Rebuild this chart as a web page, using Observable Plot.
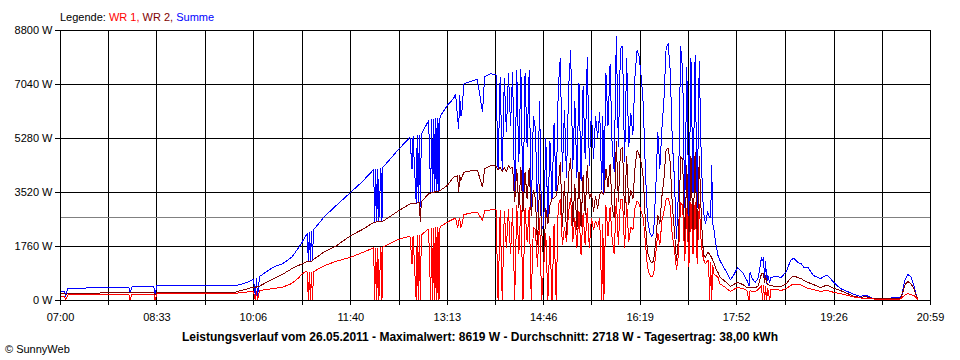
<!DOCTYPE html>
<html>
<head>
<meta charset="utf-8">
<script src="https://cdn.jsdelivr.net/npm/d3@7"></script>
<script src="https://cdn.jsdelivr.net/npm/@observablehq/plot@0.6"></script>
<style>
  html, body { margin: 0; padding: 0; background: #fff; }
  #wrap { position: relative; width: 960px; height: 360px; font-family: "Liberation Sans", Arial, sans-serif; color: #000; }
  #legend { position: absolute; left: 60px; top: 12px; font-size: 11px; line-height: 11px; white-space: nowrap; }
  #chart { position: absolute; left: 0; top: 24px; }
  #title { position: absolute; left: 0; width: 960px; top: 331px; text-align: center; font-weight: bold; font-size: 12px; line-height: 12px; white-space: nowrap; }
  #copy { position: absolute; left: 5px; top: 344px; font-size: 11px; line-height: 11px; white-space: nowrap; }
</style>
</head>
<body>
<div id="wrap">
  <div id="legend"></div>
  <div id="chart"></div>
  <div id="title"></div>
  <div id="copy"></div>
</div>
<script>
// ---------- data ----------
const legendPrefix = "Legende: ";
const seriesNames = ["WR 1", "WR 2", "Summe"];
const seriesColors = ["#ff0000", "#800000", "#0000ff"];
const xTickLabels = ["07:00", "08:33", "10:06", "11:40", "13:13", "14:46", "16:19", "17:52", "19:26", "20:59"];
const yTicks = [0, 1760, 3520, 5280, 7040, 8800];
const averageW = 2718;
const maxW = 8619;
const dateLabel = "26.05.2011";
const dayYield = "38,00";
const copyright = "© SunnyWeb";

// sample times, minutes after midnight
const times = [
  420,424,425,427,439,459,486,487,489,510,
  511,513,555,589,594,598,603,606,608,609,
  610,612,625,634,643,650,653,656,658,659,
  660,661,662,663,664,674,685,700,711,722,
  723,724,725,726,727,729,730,731,745,757,
  759,760,763,764,765,766,767,768,775,777,
  778,779,780,781,782,783,784,785,786,793,
  799,801,803,804,805,806,807,809,818,822,
  827,829,835,840,842,844,846,848,850,852,
  854,856,858,860,862,864,866,868,870,872,
  874,876,878,880,882,884,886,888,890,892,
  894,896,898,900,902,904,906,908,910,912,
  914,916,918,920,922,924,926,928,930,932,
  934,936,938,940,942,943,944,946,948,950,
  952,954,956,958,960,962,964,966,968,970,
  972,974,976,978,980,982,984,986,988,990,
  992,994,996,998,1000,1002,1004,1006,1008,1010,
  1012,1014,1016,1018,1020,1022,1024,1026,1028,1030,
  1032,1034,1036,1038,1040,1042,1044,1045,1046,1047,
  1048,1049,1050,1052,1054,1056,1061,1066,1069,1073,
  1078,1082,1084,1085,1087,1090,1093,1096,1097,1098,
  1099,1100,1101,1102,1104,1105,1110,1115,1120,1124,
  1127,1131,1134,1137,1141,1146,1153,1158,1160,1166,
  1172,1179,1185,1192,1196,1204,1211,1218,1225,1230,
  1232,1234,1237,1240,1243,1246,1247
];
// WR 1 power (W)
const wr1 = [
  130,130,30,180,180,186,190,0,210,210,
  0,218,218,228,261,270,293,293,0,300,
  0,326,391,430,554,750,870,930,930,0,
  935,0,935,0,940,1125,1270,1411,1560,1718,
  0,1720,0,1725,0,1740,0,1750,1980,2100,
  1200,2110,0,2120,0,2130,0,2140,2337,0,
  2360,0,2370,0,2380,0,2390,0,2400,2552,
  2655,2690,2350,2600,2700,2360,2450,2800,2868,2880,
  2607,2920,2956,2950,0,2950,0,2920,1700,2980,
  1500,3000,0,3100,1500,3100,0,3000,1900,3050,
  0,2400,2300,1100,2700,0,1100,2200,0,2100,
  0,2500,0,3100,3300,1800,2400,1900,2900,3350,
  1900,2700,1700,2900,1500,2850,1800,3000,1700,2700,
  2300,2600,2400,2700,0,2500,0,3100,2100,3050,
  2000,1500,3350,1800,3300,3300,1700,3200,1900,2400,
  2300,3000,3250,3150,2900,2700,1900,1100,850,760,
  850,1500,2200,1800,2600,2900,3300,3350,3100,2100,
  1700,1000,1500,3200,3100,1300,3000,1100,3200,1500,
  3200,1200,3150,1800,1350,1200,1300,1300,0,1250,
  0,1150,870,815,760,545,430,293,359,424,
  391,326,0,320,300,293,359,489,0,489,
  0,456,0,391,0,359,359,326,391,489,
  538,521,505,456,391,359,293,326,326,261,
  228,163,115,80,80,50,33,33,33,50,
  115,163,228,196,163,65,0
];
// WR 2 power (W)
const wr2 = [
  218,228,196,228,228,245,250,250,250,260,
  170,260,270,270,326,359,407,433,433,440,
  445,470,707,850,1035,1150,1196,1240,1271,1271,
  1275,1280,1285,1290,1336,1580,1760,2119,2310,2542,
  2550,2555,2560,2565,2570,2575,2580,2585,2900,3150,
  3150,3160,3170,3180,3190,3200,2550,3220,3477,3500,
  3510,3520,3530,3540,3550,3555,3560,3565,3580,3748,
  4019,4040,4060,3530,4080,3900,4000,4182,4237,4250,
  3693,4300,4400,4380,4250,4350,4200,4330,4200,4400,
  4300,4350,3200,4300,3000,4350,2900,4200,3300,4330,
  2750,3600,3300,1800,3800,2300,1200,3000,2500,3100,
  3300,3350,3400,3800,4500,2400,3900,2100,4100,4650,
  2400,3800,2300,4200,2400,4100,2800,4400,3300,3500,
  2900,3400,3000,3450,3550,3500,3450,4300,3700,4450,
  3000,2700,5200,3200,4900,5000,2800,4700,3100,3600,
  3300,4300,4900,4750,4500,4000,2600,1600,1350,1220,
  1300,1900,2800,2500,3400,4000,4900,4980,4500,3100,
  2300,1300,2000,4700,4600,1700,4400,1500,4700,2000,
  4850,1800,4700,2700,1500,1400,1550,1550,1500,1450,
  1400,1300,1250,1030,920,760,620,456,521,587,
  521,424,424,425,420,407,489,870,880,865,
  587,815,587,521,489,489,456,456,554,717,
  800,750,717,652,587,521,424,489,489,391,
  326,228,130,98,130,65,50,50,65,80,
  228,489,619,554,391,98,0
];
// Summe power (W)
const summe = [
  293,293,130,390,400,424,430,250,456,470,
  170,489,489,489,521,570,636,700,130,720,
  130,782,1085,1195,1411,1737,1900,2080,2184,1280,
  2216,1290,2250,1300,2300,2715,3070,3530,3870,4270,
  2560,4290,2570,4300,2580,4320,2590,4340,4889,5320,
  4300,5350,3180,5380,3190,5390,3060,5420,5867,3530,
  5900,3540,5920,3550,5940,3560,5960,3570,5990,6356,
  6580,6735,5930,5600,6700,6000,6100,7063,7171,7200,
  6137,7300,7390,7350,4250,7300,4200,7250,5500,7400,
  5700,7450,3200,7500,4500,7560,2900,7400,5000,7500,
  2750,6000,5600,2900,6500,2300,2500,5300,2600,5200,
  3300,5800,3400,6900,7900,4200,6200,4000,6900,8150,
  4300,6500,4000,7100,3900,7000,4600,7950,4400,6200,
  4600,6000,5300,6150,3600,6000,3500,7400,5700,7700,
  5000,4200,8619,5000,8200,8300,4500,7900,5000,6100,
  5400,7300,8150,7950,7300,6400,4300,2700,2250,2080,
  2200,3600,5500,4300,5600,6600,8200,8380,7500,5200,
  4000,2000,3600,8300,7500,3000,7600,2600,7900,3500,
  8000,3000,7800,4500,2900,2500,2900,2800,2700,2700,
  4400,2500,2340,1850,1470,1300,1000,684,815,1076,
  913,652,489,920,717,587,750,1400,1304,1400,
  652,1300,554,815,587,750,782,750,945,1304,
  1385,1239,1206,1076,1076,815,717,815,800,587,
  391,293,196,130,180,65,80,65,98,98,
  261,652,847,782,489,98,0
];

// ---------- build ----------
const n = Math.min(times.length, wr1.length, wr2.length, summe.length);
const rows = d3.range(n).map(i => ({t: times[i], wr1: wr1[i], wr2: wr2[i], summe: summe[i]}));

const toMin = s => { const [h, m] = s.split(":").map(Number); return h * 60 + m; };
const labeled = xTickLabels.map(toMin);
const grid = [];
labeled.forEach((v, i) => { grid.push(v); if (i < labeled.length - 1) grid.push((v + labeled[i + 1]) / 2); });
const labelFor = new Map(labeled.map((v, i) => [v, xTickLabels[i]]));

const chart = Plot.plot({
  width: 960,
  height: 300,
  marginLeft: 60,
  marginRight: 30,
  marginTop: 6,
  marginBottom: 24,
  style: {fontFamily: "'Liberation Sans', Arial, sans-serif", fontSize: "11px", background: "#fff", color: "#000", overflow: "visible"},
  x: {domain: [labeled[0], labeled[labeled.length - 1]]},
  y: {domain: [0, yTicks[yTicks.length - 1]]},
  marks: [
    Plot.ruleX(grid, {stroke: "#000", strokeWidth: 1, shapeRendering: "crispEdges"}),
    Plot.ruleY(yTicks, {stroke: "#000", strokeWidth: 1, shapeRendering: "crispEdges"}),
    Plot.ruleY([averageW], {stroke: "#808080", strokeWidth: 1, shapeRendering: "crispEdges"}),
    Plot.line(rows, {x: "t", y: "summe", stroke: seriesColors[2], strokeWidth: 1, shapeRendering: "crispEdges", strokeLinejoin: "miter"}),
    Plot.line(rows, {x: "t", y: "wr2", stroke: seriesColors[1], strokeWidth: 1, shapeRendering: "crispEdges", strokeLinejoin: "miter"}),
    Plot.line(rows, {x: "t", y: "wr1", stroke: seriesColors[0], strokeWidth: 1, shapeRendering: "crispEdges", strokeLinejoin: "miter"}),
    Plot.frame({stroke: "#000", shapeRendering: "crispEdges"}),
    Plot.axisX({ticks: grid, tickSize: 5, tickPadding: 8, tickFormat: d => labelFor.get(d) ?? "", label: null, shapeRendering: "crispEdges"}),
    Plot.axisY({ticks: yTicks, tickSize: 5, tickPadding: 3, tickFormat: d => `${d} W`, label: null, shapeRendering: "crispEdges"})
  ]
});
document.getElementById("chart").appendChild(chart);

// legend
const legend = document.getElementById("legend");
const pre = document.createElement("span");
pre.textContent = legendPrefix;
legend.appendChild(pre);
seriesNames.forEach((name, i) => {
  const s = document.createElement("span");
  s.style.color = seriesColors[i];
  s.textContent = name + (i < seriesNames.length - 1 ? ", " : "");
  legend.appendChild(s);
});

document.getElementById("title").textContent =
  `Leistungsverlauf vom ${dateLabel} - Maximalwert: ${maxW} W - Durchschnitt: ${averageW} W - Tagesertrag: ${dayYield} kWh`;
document.getElementById("copy").textContent = copyright;
</script>
</body>
</html>
